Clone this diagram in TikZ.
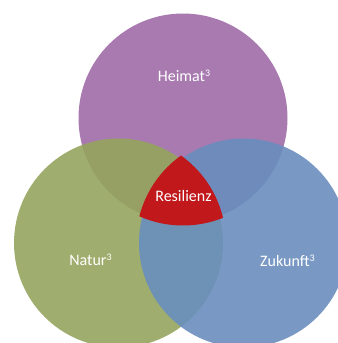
\documentclass[tikz,border=0pt]{standalone}
\usepackage{fontspec}
\setmainfont{Carlito}
\usepackage{tikz}

\definecolor{heimatcol}{RGB}{158,108,167}
\definecolor{naturcol}{RGB}{149,165,94}
\definecolor{zukunftcol}{RGB}{106,142,190}
\definecolor{resilienzcol}{RGB}{192,24,27}

\newcommand{\supthree}{\raisebox{3.5pt}{\fontsize{7.5}{8}\selectfont 3}}

\begin{document}
\begin{tikzpicture}[
  x=0.75pt, y=-0.75pt,
  bubble/.style={circle, inner sep=0pt, minimum size=156.75pt,
    fill opacity=0.9},
  bubbletext/.style={anchor=base, text=white, font=\fontsize{12}{14}\selectfont}
]
\useasboundingbox (0,0) rectangle (338,343);
\clip (0,0) rectangle (338,343);

%% ── Circles ──
\node[bubble, fill=heimatcol]  (heimat)  at (183,118)   {};
\node[bubble, fill=naturcol]   (natur)   at (118.5,243) {};
\node[bubble, fill=zukunftcol] (zukunft) at (243.5,243) {};

%% ── Core (all three) ──
\begin{scope}
  \clip (heimat.center) circle[radius=107.5];
  \clip (natur.center) circle[radius=107.5];
  \fill[resilienzcol] (zukunft.center) circle[radius=107.5];
\end{scope}

%% ── Labels ──
\node[bubbletext] (heimatT)    at (184,81.5)  {Heimat\supthree};
\node[bubbletext] (naturT)     at (90.5,265)  {Natur\supthree};
\node[bubbletext] (zukunftT)   at (287.5,266) {Zukunft\supthree};
\node[bubbletext] (resilienzT) at (183.5,201.5) {Resilienz};

\end{tikzpicture}
\end{document}
